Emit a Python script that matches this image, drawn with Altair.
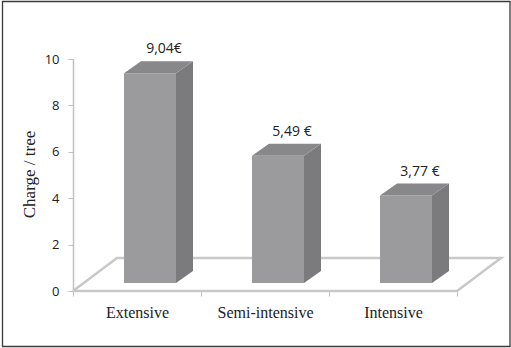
import altair as alt
import pandas as pd

# ---- data ----
categories = ["Extensive", "Semi-intensive", "Intensive"]
values = [9.04, 5.49, 3.77]
value_labels = ["9,04€", "5,49 €", "3,77 €"]
y_ticks = [0, 2, 4, 6, 8, 10]

# ---- style constants (pixels) ----
W, H = 384, 232
YMAX = 10
N = len(categories)
BAND = W / N
ux = 1 / BAND          # x data units per pixel
uy = YMAX / H          # y data units per pixel
FRONT_OFF = 51         # front face left edge from band start
FRONT_W = 52           # front face width
DEPTH_X, DEPTH_Y = 17, 12
LIFT = 8               # bars stand slightly inside the floor
FLOOR_DX, FLOOR_DY = 44, 33

C_FRONT = "#9b9b9e"
C_SIDE = "#7b7b7e"
C_TOP = "#88888b"
C_FLOOR = "#c8c8c8"
C_AXIS = "#c0c0c0"
C_TEXT = "#222222"

# ---- tables built from the arrays ----
rows = []
for i, (c, v, l) in enumerate(zip(categories, values, value_labels)):
    x0 = i + FRONT_OFF * ux
    x1 = x0 + FRONT_W * ux
    yb = LIFT * uy
    yt = v + yb
    rows.append(dict(cat=c, val=v, lab=l, x0=x0, x1=x1,
                     x2=x1 + DEPTH_X * ux, xb0=x0 + DEPTH_X * ux,
                     yb=yb, yt=yt, yback=yt + DEPTH_Y * uy))
bars = pd.DataFrame(rows)

side_rows, top_rows = [], []
for r in rows:
    side_rows.append(dict(cat=r["cat"], x=r["x1"], top=r["yt"], bot=r["yb"]))
    side_rows.append(dict(cat=r["cat"], x=r["x2"], top=r["yback"], bot=r["yb"] + DEPTH_Y * uy))
    top_rows.append(dict(cat=r["cat"], y=r["yt"], xa=r["x0"], xb=r["x1"]))
    top_rows.append(dict(cat=r["cat"], y=r["yback"], xa=r["xb0"], xb=r["x2"]))
side = pd.DataFrame(side_rows)
top = pd.DataFrame(top_rows)

floor = pd.DataFrame({
    "x": [0, N, N + FLOOR_DX * ux, FLOOR_DX * ux, 0],
    "y": [0, 0, FLOOR_DY * uy, FLOOR_DY * uy, 0],
    "o": [0, 1, 2, 3, 4],
})

xq = alt.Scale(domain=[0, N], nice=False, zero=False)
yq = alt.Scale(domain=[0, YMAX], nice=False)

y_axis = alt.Axis(
    values=y_ticks, grid=False, domainColor=C_AXIS, domainWidth=1.5,
    tickColor=C_AXIS, tickSize=5, tickWidth=1,
    labelFont="Open Sans", labelFontSize=13, labelColor=C_TEXT, labelPadding=9,
    title="Charge / tree", titleFont="Liberation Serif", titleFontSize=17,
    titleFontWeight="normal", titleColor=C_TEXT,
    titleX=-44, titleY=115, titleBaseline="middle", titleAngle=-90)

border = alt.Chart(alt.Data(values=[{}])).mark_rect(
    fillOpacity=0, stroke="#3a3a3a", strokeWidth=1.3
).encode(
    x=alt.value(-70.5), x2=alt.value(437), y=alt.value(-57.5), y2=alt.value(287.5)
)

floor_l = alt.Chart(floor).mark_line(color=C_FLOOR, strokeWidth=2.5).encode(
    x=alt.X("x:Q", scale=xq, axis=None),
    y=alt.Y("y:Q", scale=yq, axis=y_axis),
    order="o:Q",
)

front = alt.Chart(bars).mark_rect(color=C_FRONT).encode(
    x=alt.X("x0:Q", scale=xq, axis=None),
    x2="x1:Q",
    y=alt.Y("yb:Q", scale=yq, axis=y_axis),
    y2="yt:Q",
)

side_l = alt.Chart(side).mark_area(color=C_SIDE, orient="vertical", interpolate="linear").encode(
    x=alt.X("x:Q", scale=xq, axis=None),
    y=alt.Y("top:Q", scale=yq, axis=y_axis),
    y2="bot:Q",
    detail="cat:N",
)

top_l = alt.Chart(top).mark_area(color=C_TOP, orient="horizontal", interpolate="linear").encode(
    y=alt.Y("y:Q", scale=yq, axis=y_axis),
    x=alt.X("xa:Q", scale=xq, axis=None),
    x2="xb:Q",
    detail="cat:N",
)

text_l = alt.Chart(bars).mark_text(
    font="Open Sans", fontSize=14, color=C_TEXT, dx=27, dy=-12, baseline="middle"
).encode(
    x=alt.X("cat:N", sort=categories,
            scale=alt.Scale(type="band", paddingInner=0, paddingOuter=0),
            axis=alt.Axis(title=None, domain=False, tickBand="extent", ticks=True,
                          tickColor=C_AXIS, tickSize=5, labelAngle=0,
                          labelFont="Liberation Serif", labelFontSize=16,
                          labelColor=C_TEXT, labelBaseline="alphabetic",
                          labelPadding=21)),
    y=alt.Y("yback:Q", scale=yq, axis=y_axis),
    text="lab:N",
)

chart = alt.layer(border, floor_l, front, side_l, top_l, text_l).resolve_scale(
    x="independent"
).properties(
    width=W, height=H,
    background="white",
    autosize=alt.AutoSizeParams(type="none"),
    padding={"left": 73, "top": 59, "right": 54, "bottom": 57},
).configure_view(strokeWidth=0, stroke="transparent")

chart.save("out.html", embed_options={"renderer": "svg", "actions": False})
